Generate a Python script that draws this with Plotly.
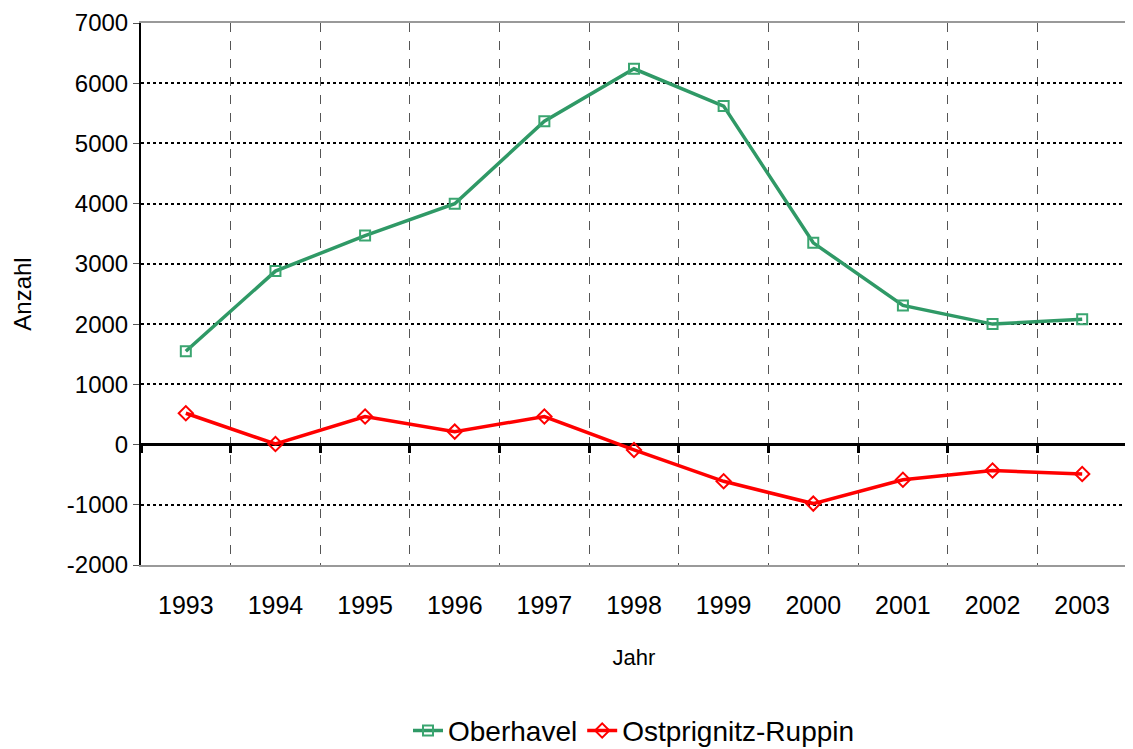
import plotly.graph_objects as go

years = ["1993", "1994", "1995", "1996", "1997", "1998", "1999", "2000", "2001", "2002", "2003"]
oberhavel = [1550, 2880, 3470, 4000, 5370, 6240, 5620, 3350, 2310, 2000, 2080]
ostprignitz = [520, 10, 465, 215, 465, -90, -610, -980, -585, -430, -490]
y_ticks = [-2000, -1000, 0, 1000, 2000, 3000, 4000, 5000, 6000, 7000]
y_ticktext = [str(v) for v in y_ticks]

xpos = list(range(len(years)))
FONT = "Liberation Sans, Arial, sans-serif"

fig = go.Figure()
fig.add_trace(go.Scatter(
    x=xpos, y=oberhavel, name="Oberhavel", mode="lines+markers",
    line=dict(color="#2F9966", width=3.5),
    marker=dict(symbol="square-open", size=10, color="#3AA570", line=dict(width=2)),
))
fig.add_trace(go.Scatter(
    x=xpos, y=ostprignitz, name="Ostprignitz-Ruppin", mode="lines+markers",
    line=dict(color="#FF0000", width=3.5),
    marker=dict(symbol="diamond-open", size=11, color="#FF0000", line=dict(width=2)),
))
# invisible trace to activate the crossing axis at y=0
fig.add_trace(go.Scatter(x=xpos, y=ostprignitz, xaxis="x2", mode="none",
                         showlegend=False, hoverinfo="skip"))

fig.update_layout(
    width=1133, height=749,
    margin=dict(l=133, r=14, t=15, b=192),
    paper_bgcolor="white", plot_bgcolor="white",
    font=dict(family=FONT, color="#000000", size=24),
    showlegend=True,
    legend=dict(orientation="h", x=0.5, xanchor="center",
                yref="container", y=0.035, yanchor="middle",
                font=dict(size=28, family=FONT), tracegroupgap=0),
    xaxis=dict(
        range=[-0.5, len(years) - 0.5], automargin=False,
        tickmode="array", tickvals=xpos, ticktext=years,
        showgrid=False, zeroline=False,
        showline=True, linecolor="#999999", linewidth=2, mirror=True,
        ticks="", ticklabelstandoff=17,
        tickfont=dict(size=25, family=FONT),
        title=dict(text="Jahr", font=dict(size=22, family=FONT), standoff=32),
        minor=dict(tick0=-0.5, dtick=1, showgrid=True, gridcolor="#555555",
                   griddash="dash", gridwidth=1),
    ),
    xaxis2=dict(
        overlaying="x", anchor="free", position=2000 / 9000,
        range=[-0.5, len(years) - 0.5], side="bottom",
        showgrid=False, zeroline=False, showline=False,
        showticklabels=False, tickmode="array", tickvals=[],
        minor=dict(tick0=-0.5, dtick=1, ticks="outside", ticklen=7,
                   tickwidth=3, tickcolor="#000000", showgrid=False),
    ),
    yaxis=dict(
        range=[-2000, 7000], tickvals=y_ticks, ticktext=y_ticktext,
        automargin=False, ticklabeloverflow="allow",
        showgrid=True, gridcolor="#000000", griddash="dot", gridwidth=2,
        zeroline=True, zerolinecolor="#000000", zerolinewidth=3,
        showline=True, linecolor="#000000", linewidth=2,
        ticks="outside", ticklen=6, tickcolor="#555555",
        tickfont=dict(size=24, family=FONT),
        title=dict(text="Anzahl", font=dict(size=24, family=FONT), standoff=28),
    ),
)

fig.write_html("out.html")
